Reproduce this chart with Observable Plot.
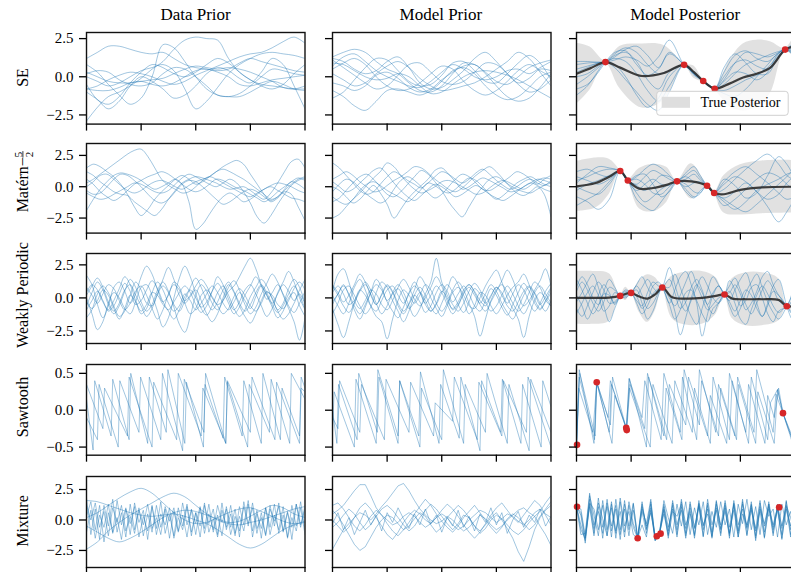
<!DOCTYPE html>
<html><head><meta charset="utf-8">
<script src="https://cdn.jsdelivr.net/npm/d3@7"></script>
<script src="https://cdn.jsdelivr.net/npm/@observablehq/plot@0.6"></script>
<style>
body{margin:0;background:#fff}
#fig{position:relative;width:791px;height:572px;overflow:hidden;background:#fff;font-family:"Liberation Serif",serif}
#fig svg{position:absolute}
</style></head><body><div id="fig"></div>
<script>
// ---------- labels ----------
const colTitles = ["Data Prior", "Model Prior", "Model Posterior"];
const rowNames = ["SE", "Matérn", "Weakly Periodic", "Sawtooth", "Mixture"];
const legendLabel = "True Posterior";
const rowTicks = [[-2.5,0,2.5],[-2.5,0,2.5],[-2.5,0,2.5],[-0.5,0,0.5],[-2.5,0,2.5]];
const rowDomains = [[-3.1,2.9],[-3.7,3.45],[-3.45,3.36],[-0.61,0.62],[-3.9,3.57]];
const xTicks = [0,1,2,3,4];

// ---------- SE ----------
const seData = [
 [1.2,1.6,2.0,2.0,1.8,1.6,1.5,1.6,1.2,0.8,0.6,0.5,0.4,0.5,0.9,1.2,1.0,0.8,0.6,0.4,0.3],
 [-2.9,-2.0,-1.3,-1.0,-0.6,-0.1,0.5,1.0,1.8,2.4,2.6,2.5,2.4,1.2,0.3,-0.2,-0.5,-0.6,-0.7,-0.8,-0.8],
 [0.8,0.3,-0.5,-1.2,-1.8,-1.4,0.0,2.1,1.9,1.0,0.0,-0.8,-1.2,-1.3,-1.1,-0.6,0.0,0.5,0.4,0.2,0.1],
 [0.0,-0.3,-0.6,-0.4,0.0,0.4,0.6,0.8,0.4,-0.8,-2.1,-1.6,-0.7,0.2,0.8,1.2,1.5,1.6,1.5,1.4,1.2],
 [-0.8,-0.6,-0.2,0.1,0.3,0.2,0.0,-0.3,-0.5,-0.3,0.1,0.4,0.7,1.0,1.3,1.5,1.6,1.9,2.3,2.6,2.2],
 [-0.8,-0.9,-0.9,-0.7,-0.4,-0.3,-0.5,-0.6,-0.4,0.0,0.4,0.5,0.3,0.0,-0.5,-0.6,-0.4,-0.2,-0.1,0.0,0.1],
 [0.2,0.4,0.3,-0.2,-0.5,-0.6,-0.4,0.2,0.6,0.5,0.0,-0.6,-1.2,-1.3,-1.3,-1.0,-0.6,-0.3,-0.5,-0.8,-0.9],
 [-0.5,-1.5,-1.8,-1.3,-0.4,0.3,0.8,0.6,0.2,0.0,0.3,0.8,1.2,0.9,0.3,-0.2,-0.6,-0.8,-0.5,0.2,0.8],
 [0.3,0.0,-0.3,-0.4,-0.4,-0.3,-0.2,-0.1,0.2,0.5,0.7,0.6,0.5,0.6,0.5,0.3,0.0,-0.3,-0.7,-0.8,-0.6],
 [-1.0,-1.5,-2.1,-1.6,-0.6,0.0,-0.3,-0.8,-1.4,-1.2,-0.6,0.2,0.6,0.4,-0.1,-0.4,0.3,1.2,0.8,-0.6,-2.1]
];
const seModel = [
 [1.3,1.6,1.8,1.6,1.0,0.5,0.2,-0.4,-0.9,-1.0,-0.6,0.2,0.9,0.8,0.3,-0.3,-0.5,0.0,0.6,0.9,1.1],
 [1.2,1.0,0.5,0.2,0.4,1.0,1.3,0.6,-0.4,-0.8,-0.7,-0.2,0.4,1.2,1.6,1.0,0.2,-0.4,-0.1,0.5,0.4],
 [-0.9,-1.3,-1.9,-2.2,-1.6,-0.9,-0.8,-1.0,-1.2,-0.9,-0.3,0.4,0.6,0.2,-0.6,-1.2,-1.5,-1.3,-0.7,0.0,0.3],
 [-1.4,-1.0,-0.2,0.6,1.2,1.1,0.4,-0.3,-0.6,-0.5,0.1,0.9,1.0,0.4,-0.3,-0.4,0.2,0.9,1.4,0.9,-0.2],
 [0.9,0.8,0.4,0.0,-0.2,-0.1,0.2,0.0,-0.6,-1.1,-1.0,-0.5,0.0,0.3,0.4,0.3,0.1,-0.2,-0.6,-1.0,-1.4],
 [0.5,0.9,1.2,0.8,0.0,-0.6,-0.9,-0.8,-0.4,0.2,0.7,0.5,-0.3,-0.9,-1.2,-0.9,-0.3,0.4,0.8,0.4,0.0],
 [0.2,-0.2,-0.6,-0.4,0.2,0.7,1.0,0.6,-0.1,-0.6,-0.9,-0.8,-0.6,-0.4,0.0,0.5,1.0,1.6,1.2,0.3,-0.6],
 [1.1,0.6,0.1,-0.4,-0.8,-0.6,0.1,0.8,0.9,0.3,-0.3,-0.5,-0.3,0.3,0.9,0.8,0.2,-0.5,-1.0,-0.8,-0.2],
 [-0.4,-0.6,-0.9,-0.6,0.1,0.3,-0.1,-0.7,-1.0,-0.8,-0.2,0.3,0.7,0.8,0.2,-0.6,-1.3,-1.6,-1.4,-0.7,0.2],
 [0.7,1.3,1.5,1.0,0.4,0.0,-0.3,-0.6,-0.7,-0.3,0.3,0.8,0.5,0.0,-0.2,0.0,0.4,0.5,0.2,0.6,1.0]
];
const seObsX = [0.53,1.97,2.32,2.53,3.82];
const seObsY = [0.96,0.78,-0.28,-0.78,1.78];
const seKnotX = [0,0.25,0.53,0.8,1.2,1.6,1.97,2.15,2.32,2.53,2.8,3.05,3.3,3.55,3.82,4.0];
const seMean  = [0.2,0.55,0.96,0.6,0.05,0.25,0.78,0.3,-0.28,-0.78,-0.45,-0.05,0.2,0.6,1.78,2.0];
const seSd    = [1.0,0.7,0.04,0.7,1.05,0.9,0.04,0.2,0.04,0.04,0.75,1.1,1.1,0.85,0.04,0.4];
const sePostX = [0,0.2,0.4,0.53,0.7,0.9,1.1,1.3,1.5,1.7,1.97,2.15,2.32,2.53,2.7,2.9,3.1,3.3,3.5,3.65,3.82,4.0];
const sePost = [
 [0.3,0.6,0.9,0.96,1.5,1.9,1.6,0.8,0.2,0.4,0.78,0.2,-0.28,-0.78,0.3,1.4,1.7,1.2,1.0,1.4,1.78,1.4],
 [-0.5,0.0,0.6,0.96,1.2,1.0,0.2,-0.9,-1.6,-0.6,0.78,0.1,-0.28,-0.8,-0.2,0.9,1.6,1.5,1.3,1.5,1.78,1.6],
 [0.8,0.9,0.95,0.96,1.4,1.6,1.0,-0.2,-0.8,0.3,0.78,0.3,-0.3,-0.78,-0.5,0.2,0.8,1.1,1.4,1.6,1.78,1.9],
 [-1.2,-0.6,0.4,0.96,0.8,0.0,-1.2,-2.0,-1.4,0.0,0.78,0.2,-0.28,-0.78,-0.9,-0.6,-0.2,0.1,0.6,1.2,1.78,2.1],
 [0.5,0.7,0.9,0.96,1.3,1.8,2.0,1.4,0.6,1.6,0.78,0.25,-0.28,-0.78,0.0,0.9,1.1,0.7,0.5,1.1,1.78,1.7],
 [0.0,0.2,0.7,0.96,0.6,-0.2,-1.0,-1.8,-2.2,-1.0,0.78,0.2,-0.28,-0.78,-1.1,-1.3,-0.8,0.0,0.8,1.4,1.78,1.3],
 [1.0,1.0,0.95,0.96,1.1,1.3,1.1,0.7,1.3,2.4,0.78,0.3,-0.28,-0.78,0.6,1.5,0.9,0.2,0.2,1.0,1.78,2.2],
 [-0.8,-0.5,0.3,0.96,1.6,1.7,0.8,0.1,0.5,1.5,0.78,0.2,-0.28,-0.78,-0.3,0.3,0.2,-0.2,0.3,1.3,1.78,1.5]
];

// ---------- Matern 5/2 ----------
const matData = [
 [0.3,0.6,1.0,1.4,1.8,2.2,2.6,2.9,3.0,2.4,1.5,0.6,0.1,-0.2,-0.5,-0.4,0.0,0.5,0.8,0.6,0.3,0.0,-0.3,-0.6,-0.8,-0.5,-0.2,0.1,0.3,0.2,0.0,-0.3,-0.5],
 [1.5,1.8,1.6,1.2,0.8,0.2,-0.6,-1.6,-2.3,-1.8,-1.0,-0.4,0.1,0.6,0.9,0.6,0.2,0.4,0.8,1.2,1.4,1.2,0.9,0.6,0.2,-0.2,-0.6,-1.0,-0.8,-0.3,0.2,0.6,0.8],
 [-1.9,-1.0,-0.2,0.4,0.9,1.1,1.0,0.8,0.5,0.1,-0.2,0.0,0.3,0.6,0.2,-1.2,-3.4,-3.0,-2.2,-1.4,-0.8,-0.5,-0.8,-1.2,-1.0,-0.6,-0.2,0.0,-0.3,-0.6,-0.9,-1.0,-1.2],
 [0.0,0.4,0.9,1.0,0.6,0.1,-0.3,-0.5,-0.3,0.1,0.4,0.5,0.3,0.0,-0.2,0.1,0.4,0.6,0.8,1.2,1.6,1.9,2.1,1.8,1.0,0.2,-0.6,-1.2,-0.9,-0.4,-0.6,-1.6,-2.7],
 [1.2,0.9,0.4,0.0,-0.4,-0.6,-0.7,-1.2,-1.6,-2.0,-2.3,-1.8,-1.0,-0.3,0.3,0.6,0.8,0.7,0.5,0.3,0.0,-0.2,-0.1,0.0,-0.3,-0.7,-1.0,-0.5,0.3,1.2,2.0,2.2,1.5],
 [-0.5,-0.8,-1.0,-0.9,-0.6,-0.3,0.0,0.3,0.2,-0.1,-0.4,-0.5,-0.3,0.2,0.7,1.0,0.8,0.5,0.2,0.0,0.3,0.6,0.3,-0.4,-1.3,-2.4,-2.9,-2.3,-1.4,-0.6,0.1,0.5,0.7],
 [0.6,0.2,-0.4,-0.8,-1.1,-0.8,-0.3,0.2,0.5,0.8,1.0,1.2,1.0,0.6,0.2,-0.2,-0.4,-0.2,0.2,0.6,0.5,0.2,-0.1,-0.3,-0.6,-0.9,-1.2,-0.9,-0.4,0.0,0.4,0.7,0.5],
 [-0.3,-0.6,-0.5,0.0,0.6,1.0,0.9,0.5,0.0,-0.6,-1.1,-1.3,-1.0,-0.4,0.2,0.5,0.4,0.0,-0.5,-1.0,-1.4,-1.2,-0.8,-0.4,-0.2,-0.4,-0.8,-1.1,-0.8,-0.2,0.4,0.2,-0.2]
];
const matModel = [
 [1.9,1.5,0.9,0.3,-0.3,-0.6,-0.4,0.2,0.8,1.2,0.9,0.5,0.2,-0.1,0.3,0.8,1.2,1.0,0.6,0.3,0.6,1.1,1.4,1.0,0.5,0.1,-0.2,0.0,0.4,0.6,0.3,0.1,0.5],
 [-2.5,-2.2,-1.6,-1.0,-0.5,0.1,0.7,1.2,1.9,1.6,0.9,0.3,-0.2,-0.5,-0.3,0.0,0.4,0.5,0.3,0.0,-0.3,-0.6,-0.5,-0.1,0.3,0.5,0.3,0.0,-0.2,0.1,0.5,0.7,0.6],
 [0.0,-0.3,-0.8,-1.3,-1.0,-0.4,0.1,-0.5,-1.4,-2.5,-1.8,-1.0,-0.4,0.1,0.6,1.3,1.5,1.0,0.4,-0.2,0.0,0.4,0.7,0.5,0.2,-0.1,-0.4,-0.3,0.0,0.3,0.6,0.5,0.3],
 [-1.2,-0.9,-0.3,0.3,0.8,1.0,0.6,0.0,-0.6,-0.8,-0.4,0.2,0.8,1.3,1.0,0.4,-0.3,-1.2,-1.9,-2.4,-1.6,-0.7,0.0,0.6,0.8,0.5,0.1,-0.2,-0.4,-0.5,-0.2,0.1,0.3],
 [0.6,0.9,1.2,0.9,0.4,0.0,-0.4,-0.3,0.1,0.5,0.8,1.2,1.6,1.5,1.1,0.6,0.2,-0.2,-0.4,-0.1,0.4,0.9,1.3,1.6,1.2,0.6,0.0,-0.5,-0.7,-0.4,0.0,-0.6,-2.4],
 [-0.8,-1.2,-1.4,-1.0,-0.3,0.2,0.4,0.1,-0.3,-0.6,-0.9,-1.2,-0.8,-0.2,0.3,0.1,-0.3,-0.5,-0.2,0.3,0.7,0.5,0.0,-0.6,-1.0,-0.7,-0.2,0.3,0.6,0.8,0.5,0.2,0.0],
 [0.4,0.0,-0.4,-0.2,0.3,0.8,1.3,1.5,1.0,0.3,-0.3,-0.8,-1.1,-0.7,-0.2,0.2,0.0,-0.4,-0.8,-0.6,-0.2,0.1,-0.2,-0.6,-0.9,-1.1,-0.8,-0.4,0.0,0.3,0.1,-0.2,-0.4],
 [-0.4,0.2,0.6,0.4,-0.1,-0.6,-1.0,-1.3,-1.0,-0.2,0.5,0.8,0.5,0.0,-0.5,-0.9,-0.6,0.0,0.6,1.0,0.8,0.3,-0.2,-0.3,0.0,0.4,0.8,1.2,1.0,0.6,0.2,0.6,0.9]
];
const matObsX = [0.80,0.94,1.84,2.39,2.52];
const matObsY = [1.25,0.5,0.43,0.08,-0.5];
const matKnotX = [0,0.35,0.6,0.8,0.94,1.15,1.4,1.65,1.84,2.1,2.39,2.52,2.7,3.0,3.4,4.0];
const matMean  = [0.03,0.3,0.8,1.25,0.5,-0.15,-0.1,0.15,0.43,0.43,0.08,-0.5,-0.6,-0.25,-0.05,0.0];
const matSd    = [1.0,1.0,0.7,0.03,0.03,0.8,0.95,0.7,0.03,0.7,0.03,0.03,0.75,1.0,1.05,1.05];
const matPostX = [0,0.2,0.4,0.6,0.8,0.94,1.1,1.25,1.4,1.55,1.7,1.84,2.0,2.15,2.25,2.39,2.52,2.7,2.9,3.1,3.3,3.5,3.7,3.85,4.0];
const matPost = [
 [0.5,0.8,1.2,1.4,1.25,0.5,0.2,0.8,1.3,1.0,0.6,0.43,0.9,1.3,0.8,0.08,-0.5,-0.2,0.6,1.4,2.1,2.6,1.8,0.9,0.5],
 [-0.8,-1.2,-1.8,-1.0,1.25,0.5,-0.5,-1.2,-0.8,-0.2,0.2,0.43,-0.2,-0.8,-0.6,0.08,-0.5,-1.2,-1.8,-1.2,-0.3,0.2,0.6,1.0,1.2],
 [1.2,1.4,1.0,0.8,1.25,0.5,0.8,1.4,1.8,1.5,0.9,0.43,0.6,1.0,0.6,0.08,-0.5,0.4,1.2,1.6,1.0,0.3,-0.5,-1.0,-0.8],
 [0.0,-0.4,-0.6,0.2,1.25,0.5,-1.0,-1.6,-1.9,-1.2,-0.3,0.43,0.2,-0.4,-0.5,0.08,-0.5,-0.9,-0.4,0.3,-0.4,-1.6,-2.8,-2.0,-0.9],
 [0.8,0.5,0.2,0.6,1.25,0.5,0.1,-0.3,0.3,0.9,0.8,0.43,1.1,1.6,1.0,0.08,-0.5,-1.5,-1.0,-0.2,0.6,1.1,0.8,0.2,-0.3],
 [-1.5,-1.0,-0.5,0.4,1.25,0.5,0.6,0.2,-0.5,-0.6,0.0,0.43,0.0,0.3,0.4,0.08,-0.5,0.2,0.8,0.4,-0.4,-1.0,-0.6,0.3,0.9],
 [0.3,1.0,1.6,1.5,1.25,0.5,-0.3,0.2,0.6,0.2,0.1,0.43,-0.4,-0.9,-0.4,0.08,-0.5,-1.0,-1.6,-2.0,-1.4,-0.6,0.2,0.8,1.5],
 [-0.3,0.2,0.5,0.9,1.25,0.5,0.9,1.0,0.2,-0.8,-0.4,0.43,0.8,0.4,0.3,0.08,-0.5,0.6,0.1,-0.9,-0.5,0.9,2.4,1.8,0.6]
];

// ---------- Weakly periodic ----------
const wpData = [
 [1.7,1.0,-0.5,-1.5,-0.6,0.8,1.2,0.5,-0.4,0.3,1.6,2.4,1.8,0.6,-0.3,0.2,1.2,0.8,-0.4,-1.2,-0.8,0.2,0.6,0.1,-0.5,-0.2,0.5,0.9,1.6,2.4,3.0,2.2,1.0,0.2,-0.4,0.3,1.0,0.5,-0.2,0.6,1.4],
 [0.0,-1.2,-2.4,-1.8,-0.4,0.4,0.0,-0.8,-1.2,-0.3,0.8,1.0,0.2,-1.0,-2.2,-1.5,0.0,1.5,2.4,1.6,0.3,-0.8,-1.3,-0.6,0.4,0.9,0.2,-0.8,-1.4,-0.9,0.1,0.8,1.4,0.9,-0.1,-1.0,-1.6,-1.2,-0.4,0.3,-0.5],
 [-0.6,0.4,1.2,0.6,-0.5,-1.2,-0.6,0.5,1.4,0.8,-0.3,-1.0,-0.5,0.6,1.2,0.5,-0.7,-2.0,-2.6,-1.4,0.2,1.0,0.5,-0.4,-0.9,-0.2,0.8,1.3,0.6,-0.5,-1.2,-0.7,0.3,1.1,1.8,1.2,0.2,-0.8,-1.8,-3.2,-1.5],
 [0.8,0.2,-0.4,0.3,1.0,0.7,-0.2,-0.9,-0.4,0.5,0.9,0.2,-0.8,-1.6,-0.9,0.3,1.0,0.6,-0.2,0.2,0.9,1.4,0.9,0.0,-0.6,-1.2,-0.8,0.1,0.7,0.2,-0.6,-1.0,-0.4,0.4,0.2,-0.5,-0.8,-0.2,0.7,1.2,0.6],
 [-1.5,-0.9,0.3,0.9,0.4,-0.6,-1.4,-1.0,0.2,1.2,0.6,-0.4,-0.6,0.3,1.4,2.3,1.4,0.2,-0.4,0.1,0.6,-0.2,-1.2,-1.8,-1.2,0.0,1.0,0.4,-0.6,-1.4,-1.9,-1.2,-0.2,0.5,0.0,-0.9,-0.4,0.7,1.4,0.8,-0.4],
 [0.4,1.0,0.6,-0.3,-0.9,-0.2,0.7,1.6,1.0,-0.2,-1.0,-0.5,0.4,0.2,-0.5,-0.9,-0.3,0.4,0.9,0.4,-0.5,-1.1,-0.6,0.5,1.6,1.0,-0.1,-0.9,-0.3,0.6,1.0,0.3,-0.6,-1.4,-0.8,0.4,1.2,2.0,1.2,0.0,-0.9],
 [-0.3,-0.8,-0.2,0.6,0.2,-0.8,-1.6,-0.8,0.2,-0.3,-1.2,-0.8,0.4,1.2,0.6,-0.4,-1.0,-0.6,0.3,-0.2,-0.9,-0.4,0.3,0.9,0.4,-0.4,-0.9,-0.3,0.4,-0.2,-0.8,0.1,0.9,0.2,-0.7,-1.5,-1.0,0.0,0.4,-0.6,-1.4],
 [0.2,0.9,1.5,0.8,-0.3,-1.0,-0.4,0.6,1.0,0.2,-0.6,-1.4,-0.8,0.3,0.9,0.4,-0.5,-1.0,-0.2,0.8,1.5,0.8,-0.2,-0.9,-0.3,0.6,1.2,0.5,-0.4,-1.0,-0.5,0.4,1.0,0.4,-0.5,-1.1,-0.6,0.3,0.9,0.2,-0.8],
 [-0.9,-0.2,0.5,-0.2,-1.0,-0.6,0.3,1.1,0.5,-0.5,-0.2,0.6,1.3,0.7,-0.3,-1.0,-1.6,-0.9,0.1,0.6,0.0,-0.7,-0.3,0.5,1.1,0.5,-0.4,-1.2,-0.7,0.2,0.9,1.6,0.9,-0.1,0.4,1.0,0.3,-0.6,-1.1,-0.4,0.5]
];
const wpModel = [
 [0.5,1.8,2.2,1.2,-0.2,-0.8,-0.2,0.6,0.3,-0.5,-0.9,-0.2,0.8,1.4,0.8,-0.1,-0.6,0.0,0.8,1.6,0.9,-0.2,-0.8,-0.3,0.6,1.0,0.4,-0.5,-1.0,-0.3,0.5,1.3,2.1,1.4,0.2,-0.6,-0.2,0.6,1.3,2.2,0.9],
 [-0.8,-2.0,-3.0,-1.8,-0.4,0.6,1.2,0.6,-0.4,-1.2,-0.6,0.4,1.0,0.4,-0.6,-1.4,-0.8,0.3,1.2,3.0,1.2,0.2,-0.5,-1.0,-0.4,0.5,1.1,0.6,-0.3,-1.0,-0.6,0.2,0.9,0.3,-0.6,-1.2,-0.5,0.4,0.9,0.3,-0.4],
 [0.2,-0.6,-1.2,-0.4,0.8,1.4,0.6,-0.6,-1.4,-1.8,-3.1,-1.6,-0.2,0.6,0.2,-0.4,0.2,1.0,0.6,-0.4,-1.0,-0.4,0.6,1.2,0.6,-0.4,-1.4,-2.9,-1.6,-0.2,0.6,1.0,0.4,-0.4,-1.0,-0.5,0.4,1.2,0.8,-0.2,-0.6],
 [1.0,0.4,-0.3,0.2,1.0,1.8,1.2,0.2,-0.5,0.3,1.0,0.5,-0.4,-1.0,-0.4,0.6,1.6,1.0,0.0,-0.8,-1.4,-0.6,0.4,0.8,0.2,-0.6,-0.8,0.0,0.9,1.6,2.1,1.2,0.0,-0.8,-1.6,-3.0,-1.4,-0.2,0.4,0.0,-0.6],
 [-1.2,-0.4,0.6,0.9,0.2,-0.6,-1.2,-0.7,0.4,1.2,0.8,-0.2,-1.0,-1.8,-1.0,0.2,0.8,0.2,-0.7,-1.2,-0.4,0.6,1.6,1.0,-0.2,-1.2,-0.6,0.4,0.2,-0.6,-1.2,-0.6,0.2,0.8,1.2,1.8,1.0,-0.1,-0.8,-0.2,0.7],
 [0.4,0.9,0.3,-0.5,-0.2,0.6,0.2,-0.6,-1.0,-0.2,0.6,0.9,0.2,-0.4,0.4,1.2,0.5,-0.5,-1.0,-0.5,0.4,1.0,0.4,-0.5,-1.1,-0.3,0.7,0.3,-0.4,0.2,0.8,0.2,-0.6,-1.0,-0.3,0.5,0.9,0.4,-0.4,-1.0,-0.2],
 [-0.3,0.3,1.0,0.2,-0.9,-1.6,-0.7,0.4,1.4,0.8,-0.2,0.3,0.7,0.0,-0.8,-0.3,0.4,-0.2,-1.0,-0.4,0.5,0.0,-0.9,-0.5,0.4,1.0,0.5,-0.2,-0.6,0.1,0.8,0.4,-0.4,0.3,1.0,0.6,-0.3,-1.0,-0.4,0.5,1.1],
 [-0.5,0.3,0.9,0.3,-0.6,-1.2,-0.5,0.4,1.0,0.6,-0.3,-1.0,-1.5,-0.7,0.3,0.9,0.4,-0.4,0.2,0.9,0.4,-0.5,-1.2,-0.6,0.3,0.8,0.2,-0.4,0.3,1.0,0.5,-0.4,-1.1,-1.6,-0.8,0.2,0.8,0.3,-0.5,0.1,0.8],
 [0.9,0.2,-0.6,-1.1,-0.4,0.5,1.0,0.3,-0.5,0.2,0.9,0.4,-0.6,-1.2,-0.5,0.2,-0.3,-1.1,-0.6,0.4,1.0,0.5,-0.3,0.3,0.9,0.3,-0.6,-1.0,-0.2,0.7,0.2,-0.7,-1.3,-0.5,0.4,1.1,0.5,-0.4,-0.9,-0.3,0.4]
];
const wpObsX = [0.80,1.0,1.57,2.71,3.85];
const wpObsY = [0.15,0.38,0.79,0.26,-0.63];
const wpKnotX = [0,0.3,0.6,0.8,0.9,1.0,1.15,1.3,1.45,1.57,1.75,2.0,2.3,2.55,2.71,2.85,3.1,3.4,3.7,3.85,4.0];
const wpMean  = [0.0,0.0,0.02,0.15,0.3,0.38,0.1,-0.05,0.3,0.79,0.05,-0.05,0.0,0.15,0.26,-0.05,-0.1,-0.1,-0.15,-0.63,-0.6];
const wpSd    = [1.0,1.0,0.9,0.03,0.25,0.03,0.6,0.9,0.6,0.03,0.8,1.0,1.0,0.7,0.03,0.75,1.0,1.0,0.8,0.03,0.4];
const wpPostX = [0,0.1,0.2,0.3,0.4,0.5,0.6,0.7,0.8,0.9,1.0,1.1,1.2,1.3,1.4,1.5,1.57,1.7,1.8,1.9,2.0,2.1,2.2,2.3,2.4,2.5,2.6,2.71,2.8,2.9,3.0,3.1,3.2,3.3,3.4,3.5,3.6,3.7,3.85,3.95,4.0];
const wpPost = [
 [0.5,1.2,0.6,-0.4,-1.0,-0.3,0.8,0.6,0.15,0.4,0.38,1.0,1.6,0.8,0.2,0.6,0.79,2.3,1.0,-0.3,-1.0,-0.2,0.8,1.6,0.9,0.0,-0.4,0.26,0.9,1.5,0.6,-0.5,-1.2,-0.4,0.6,1.3,0.7,-0.2,-0.63,-0.2,0.3],
 [-0.8,-1.4,-0.6,0.4,1.2,0.6,-0.4,-0.3,0.15,0.2,0.38,-0.4,-1.2,-0.6,0.3,0.7,0.79,0.2,-1.0,-2.8,-1.5,0.0,1.0,0.4,-0.6,-1.2,-0.4,0.26,-0.6,-1.4,-0.8,0.4,1.2,1.8,0.8,-0.3,-1.1,-1.6,-0.63,0.2,0.6],
 [1.4,0.6,-0.4,-1.2,-0.6,0.5,1.4,0.8,0.15,0.1,0.38,0.9,0.2,-0.8,-0.4,0.4,0.79,-0.4,0.6,1.6,2.0,1.0,-0.4,-2.9,-1.2,0.2,0.9,0.26,-0.2,0.6,1.4,1.9,0.8,-0.4,-1.4,-0.6,0.5,0.2,-0.63,-1.2,-0.8],
 [-0.3,0.4,1.2,1.8,0.8,-0.6,-1.8,-0.8,0.15,0.6,0.38,-0.2,-0.6,0.4,1.2,0.9,0.79,1.4,0.4,-0.8,-0.3,0.8,1.4,0.6,-0.5,0.4,0.9,0.26,0.5,-0.4,-1.6,-2.0,-0.9,0.2,0.9,0.3,-0.6,-1.1,-0.63,-0.6,-1.0],
 [0.2,-0.6,-1.6,-0.8,0.2,1.0,0.4,-0.5,0.15,0.5,0.38,0.2,0.8,1.4,0.8,0.4,0.79,0.8,1.8,0.8,-0.4,-1.4,-2.0,-0.8,0.6,1.6,1.0,0.26,-0.3,-1.0,-0.2,0.6,0.2,-0.8,-1.4,-0.4,0.9,1.4,-0.63,-1.6,-1.2],
 [-1.2,-0.4,0.4,0.9,0.2,-1.0,-0.6,0.4,0.15,0.0,0.38,0.6,-0.4,-1.6,-1.0,0.2,0.79,0.0,-0.6,0.2,1.2,2.0,1.0,0.0,-0.9,-0.5,0.0,0.26,1.3,0.6,-0.6,-0.2,0.8,1.0,0.0,-1.2,-1.8,-1.0,-0.63,0.4,1.2],
 [0.8,1.6,1.0,0.0,-0.5,0.3,0.2,-0.4,0.15,0.3,0.38,0.1,-0.8,-0.2,0.9,1.2,0.79,-0.5,-1.6,-0.9,0.4,0.6,-0.2,-1.2,-1.8,-0.8,-0.4,0.26,0.4,1.0,0.3,-0.9,-0.4,0.5,1.6,2.0,1.0,0.2,-0.63,-1.2,-2.2]
];

// ---------- Sawtooth ([x, y] vertices) ----------
const sawData = [
 [[0,0.15],[0.12,-0.54],[0.15,0.4],[0.45,-0.35],[0.48,0.42],[0.78,-0.4],[0.81,0.5],[1.12,-0.45],[1.15,0.45],[1.46,-0.3],[1.49,0.55],[1.8,-0.45],[1.83,0.38],[2.14,-0.5],[2.17,0.35],[2.5,-0.38],[2.53,0.45],[2.85,-0.35],[2.88,0.4],[3.2,-0.45],[3.23,0.5],[3.55,-0.4],[3.58,0.3],[3.9,-0.35],[3.93,0.45],[4,0.3]],
 [[0,-0.1],[0.2,-0.4],[0.23,0.35],[0.58,-0.5],[0.61,0.4],[0.96,-0.3],[0.99,0.45],[1.36,-0.4],[1.39,0.5],[1.76,-0.55],[1.79,0.42],[2.15,-0.3],[2.18,0.5],[2.55,-0.45],[2.58,0.38],[2.95,-0.5],[2.98,0.35],[3.35,-0.3],[3.38,0.42],[3.72,-0.45],[3.75,0.5],[4,0.15]],
 [[0,0.35],[0.3,-0.25],[0.33,0.3],[0.75,-0.35],[0.78,0.45],[1.2,-0.5],[1.23,0.38],[1.65,-0.4],[1.68,0.5],[2.1,-0.35],[2.13,0.3],[2.55,-0.45],[2.58,0.4],[3.0,-0.3],[3.03,0.45],[3.45,-0.4],[3.48,0.38],[3.9,-0.45],[3.93,0.3],[4,0.25]]
];
const sawModel = [
 [[0,0.0],[0.08,-0.45],[0.11,0.35],[0.45,-0.4],[0.48,0.5],[0.82,-0.3],[0.85,0.45],[1.2,-0.45],[1.23,0.4],[1.58,-0.35],[1.61,0.52],[1.95,-0.45],[1.98,0.35],[2.32,-0.38],[2.35,0.45],[2.7,-0.55],[2.73,0.4],[3.08,-0.3],[3.11,0.42],[3.45,-0.45],[3.48,0.35],[3.82,-0.5],[3.85,0.4],[4,0.05]],
 [[0,-0.3],[0.03,0.25],[0.4,-0.5],[0.43,0.42],[0.8,-0.45],[0.83,0.55],[1.2,-0.35],[1.23,0.4],[1.6,-0.5],[1.63,0.3],[2.0,-0.4],[2.03,0.55],[2.4,-0.45],[2.43,0.35],[2.8,-0.3],[2.83,0.5],[3.2,-0.45],[3.23,0.35],[3.6,-0.55],[3.63,0.42],[4,-0.3]],
 [[0,-0.1],[0.1,-0.25],[0.13,0.4],[0.5,-0.3],[0.53,0.35],[0.95,-0.4],[0.98,0.42],[1.4,-0.3],[1.43,0.38],[1.85,-0.35],[1.88,0.1],[2.2,-0.15],[2.23,0.45],[2.65,-0.4],[2.68,0.38],[3.1,-0.35],[3.13,0.4],[3.55,-0.3],[3.58,0.45],[4,-0.5]]
];
const sawObsX = [0.01,0.37,0.91,0.92,3.78];
const sawObsY = [-0.47,0.38,-0.24,-0.27,-0.04];
const sawPost = [
 [[0,-0.47],[0.05,0.55],[0.32,-0.45],[0.37,0.38],[0.6,-0.3],[0.64,0.35],[0.91,-0.24],[0.97,0.43],[1.28,-0.5],[1.32,0.45],[1.6,-0.35],[1.64,0.3],[1.93,-0.4],[1.97,0.55],[2.25,-0.2],[2.29,0.4],[2.6,-0.35],[2.64,0.3],[2.93,-0.4],[2.97,0.35],[3.28,-0.45],[3.32,0.25],[3.62,-0.45],[3.68,0.28],[3.78,-0.04],[4,-0.5]],
 [[0,-0.47],[0.04,0.3],[0.3,-0.3],[0.37,0.38],[0.62,-0.2],[0.66,0.45],[0.92,-0.27],[0.96,0.43],[1.2,-0.1],[1.25,0.4],[1.55,-0.4],[1.6,0.5],[1.9,-0.3],[1.94,0.45],[2.2,-0.4],[2.25,0.55],[2.55,-0.3],[2.6,0.35],[2.9,-0.35],[2.95,0.45],[3.25,-0.3],[3.3,0.55],[3.6,-0.3],[3.65,0.22],[3.78,-0.04],[4,-0.55]],
 [[0,-0.47],[0.05,0.45],[0.33,-0.4],[0.37,0.38],[0.58,-0.1],[0.62,0.4],[0.91,-0.24],[0.97,0.3],[1.35,-0.5],[1.4,0.35],[1.75,-0.45],[1.8,0.4],[2.12,-0.3],[2.16,0.3],[2.45,-0.45],[2.5,0.45],[2.8,-0.4],[2.85,0.4],[3.15,-0.45],[3.2,0.45],[3.5,-0.4],[3.55,0.1],[3.68,0.28],[3.78,-0.04],[4,-0.5]],
 [[0,-0.47],[0.06,0.5],[0.34,-0.35],[0.37,0.38],[0.65,-0.45],[0.7,0.2],[0.92,-0.27],[0.98,0.35],[1.25,-0.25],[1.3,0.5],[1.65,-0.4],[1.7,0.35],[2.0,-0.2],[2.05,0.45],[2.4,-0.35],[2.45,0.2],[2.75,-0.45],[2.8,0.5],[3.1,-0.3],[3.15,0.35],[3.45,-0.45],[3.5,0.2],[3.62,-0.1],[3.7,0.3],[3.78,-0.04],[4,-0.45]]
];

// ---------- Mixture ----------
const mixDataSmooth = [
 [0.2,0.6,1.2,1.8,2.3,2.6,2.2,1.4,0.6,0.0,-0.3,-0.2,0.2,0.6,0.9,1.0,0.7,0.3,-0.1,-0.3,-0.2],
 [-2.4,-1.8,-0.9,-0.2,0.4,0.9,1.4,1.9,2.2,1.9,1.2,0.5,0.0,-0.3,-0.4,-0.2,0.0,0.3,0.6,0.9,1.1],
 [1.6,1.5,1.2,0.9,0.6,0.4,0.3,0.4,0.5,0.3,0.0,-0.3,-0.8,-1.4,-2.0,-2.3,-2.0,-1.4,-0.8,-0.4,-0.1],
 [-0.5,-1.0,-1.5,-1.8,-1.5,-1.0,-0.4,0.2,0.6,0.8,0.7,0.4,0.1,-0.2,-0.1,0.3,0.8,1.2,1.0,0.5,0.2]
];
const mixDataJagged = [
 [1.8,-1.2,0.9,-1.6,1.2,-0.5,1.7,-1.0,0.6,-1.4,1.3,-0.8,1.0,-1.3,0.5,-1.0,1.2,-0.6,0.9,-1.5,0.7,-0.9,1.4,-0.4,0.8,-1.2,1.0,-0.7,1.3,-1.0,0.4,-1.3,1.1,-0.6,0.9,-1.4,1.5,-0.3,1.0,-1.1,0.6,-1.2,1.2,-0.5,1.4,-0.9,0.7,-1.6,1.3,-0.6,1.2],
 [0.3,1.5,-0.8,1.2,-1.8,0.6,-1.0,1.6,-0.4,1.0,-1.2,1.4,-0.2,0.8,-1.6,1.1,-0.7,1.5,-1.1,0.4,-1.3,1.0,-0.5,1.3,-1.0,0.6,-1.4,1.2,-0.3,0.9,-1.2,1.4,-0.8,0.5,-1.3,1.1,-0.4,1.6,-0.9,0.8,-1.5,1.0,-0.6,1.3,-1.1,0.4,-1.4,1.2,-0.5,1.5,-0.8],
 [-1.0,0.8,-1.5,0.4,-0.6,1.3,-1.1,0.2,-1.6,0.9,-0.3,1.1,-1.4,0.3,-0.9,1.2,-1.2,0.5,-0.4,1.0,-1.5,0.2,-0.8,1.1,-1.3,0.6,-0.5,1.4,-1.0,0.1,-1.4,0.8,-0.6,1.2,-1.1,0.3,-0.9,1.3,-1.4,0.5,-0.7,1.0,-1.2,0.4,-0.8,1.1,-1.5,0.2,-0.9,1.0,-1.2],
 [1.2,0.0,1.4,-0.6,0.7,-1.3,1.0,-0.2,1.2,-0.9,0.3,-1.1,0.8,-0.4,1.3,-0.7,0.2,-1.2,1.1,-0.1,1.0,-1.0,0.4,-1.4,0.9,-0.3,1.1,-1.1,0.5,-0.8,1.2,-0.2,0.9,-1.2,0.3,-0.9,1.1,-0.5,1.4,-0.7,0.2,-1.3,0.9,-0.1,1.1,-1.0,0.6,-0.6,1.3,-0.4,0.9]
];
const mixModel = [
 [0.5,0.8,1.2,1.8,2.4,2.9,2.9,2.0,1.0,0.4,0.0,-0.4,-0.2,0.3,0.6,0.3,-0.2,-0.6,-0.3,0.2,0.5,0.2,-0.4,-0.8,-0.5,0.0,0.4,0.8,0.6,0.2,-0.2,0.1,0.5,0.3,-0.1,-0.4,0.0,0.6,0.9,0.5,0.2],
 [-2.4,-1.6,-0.8,-0.3,0.2,0.6,0.4,0.0,0.5,1.1,1.6,2.2,2.8,3.0,2.4,1.6,0.9,0.4,0.0,-0.3,-0.1,0.3,0.0,-0.5,-0.9,-0.6,-0.1,0.4,0.1,-0.4,-0.8,-0.5,0.0,0.4,0.8,1.0,0.6,0.3,0.7,1.4,2.0],
 [0.8,0.3,-0.4,-1.2,-2.0,-2.5,-2.2,-1.4,-0.6,0.0,0.4,0.2,-0.3,-0.8,-0.5,0.1,0.6,0.3,-0.4,-1.0,-0.6,0.2,0.7,1.2,0.8,0.2,-0.5,-1.1,-0.7,0.0,0.4,0.1,-0.4,-0.9,-1.2,-0.8,-0.2,0.3,-0.5,-1.2,-2.1],
 [-0.6,-0.2,0.4,0.9,0.5,-0.2,-0.8,-0.4,0.3,0.9,1.2,0.8,0.2,-0.4,-0.9,-0.5,0.2,0.8,1.3,0.9,0.3,-0.3,-0.8,-0.3,0.4,0.2,-0.5,-0.9,-0.4,0.2,0.6,0.0,-0.7,-1.5,-2.6,-3.4,-2.2,-0.8,0.2,0.8,1.2],
 [1.2,1.4,0.9,0.2,-0.5,-0.9,-0.4,0.3,0.8,0.4,-0.3,-0.9,-1.3,-0.8,-0.2,0.5,1.1,1.7,1.2,0.5,-0.1,-0.6,-1.0,-0.5,0.2,0.7,1.2,0.6,0.0,-0.6,-1.1,-0.6,0.1,0.5,0.2,-0.3,-0.8,-0.4,0.3,0.9,1.5],
 [-0.3,0.6,-0.8,0.2,-1.2,-0.2,0.8,-0.4,0.4,-0.9,0.6,-0.2,1.0,0.1,-0.7,0.5,-0.4,0.9,-0.3,0.4,-1.0,0.2,-0.5,0.8,-0.6,0.3,-0.9,0.5,-0.2,1.0,-0.4,0.6,-1.1,0.0,0.7,-0.6,0.4,-0.2,0.9,-0.5,0.3],
 [0.0,-0.5,-1.0,-0.6,0.2,1.0,1.4,0.9,0.2,-0.5,-1.2,-1.6,-1.0,-0.2,0.4,0.8,0.5,0.0,-0.3,0.2,0.8,1.3,0.9,0.3,-0.4,-1.0,-1.5,-1.0,-0.3,0.4,1.0,1.4,0.8,0.2,-0.2,0.4,1.0,1.6,1.2,0.4,-0.4]
];
const mixObsX = [0.01,1.12,1.47,1.54,3.71];
const mixObsY = [1.09,-1.5,-1.34,-1.12,1.04];
const mixPost = [
 [1.1,-0.4,-1.7,2.0,0.4,-1.3,1.6,-0.8,1.3,-1.5,1.5,-1.0,1.2,-0.6,-1.5,1.1,-0.5,1.3,-1.5,-1.2,0.9,-0.9,1.4,-1.2,1.1,-1.1,1.5,-0.7,1.3,-1.4,1.2,-1.0,1.6,-0.8,1.0,-1.3,1.4,-1.1,1.3,-0.7,1.5,-1.3,1.1,-1.0,1.5,-0.6,1.0,-1.2,1.6,-0.8,1.2],
 [1.1,0.9,-1.3,1.7,-0.7,1.1,-1.5,1.4,-0.5,1.2,-1.2,1.6,-0.8,0.8,-1.5,0.7,-1.1,1.5,-1.6,-1.1,1.3,-0.6,0.9,-1.4,1.5,-0.7,1.0,-1.3,1.6,-0.5,0.9,-1.5,1.3,-0.4,1.4,-1.1,0.8,-1.4,1.5,-0.6,1.0,-1.5,1.4,-0.5,1.1,-1.3,1.3,-0.7,1.5,-1.2,0.7],
 [1.1,-0.8,-1.5,1.3,-1.1,1.8,-0.6,1.1,-1.4,1.7,-0.8,0.9,-1.3,1.3,-1.5,-0.4,-1.4,1.0,-1.7,-1.1,0.5,-1.2,1.6,-0.4,0.8,-1.5,1.3,-0.6,1.1,-1.3,1.7,-0.4,0.8,-1.3,1.6,-0.6,1.2,-0.9,1.7,-1.2,0.8,-0.7,1.6,-1.4,0.9,-0.4,1.04,-1.5,0.9,-0.5,1.4],
 [1.1,0.4,-1.9,1.4,0.9,-0.8,1.2,-1.3,1.5,-0.9,0.7,-1.4,1.5,-0.3,-1.4,1.3,-0.7,0.6,-1.3,-1.0,1.1,-1.3,1.2,-0.8,1.7,-0.4,0.7,-1.5,1.2,-0.8,1.4,-1.3,1.0,-1.1,1.2,-1.5,1.6,-0.4,0.9,-1.3,1.3,-0.9,0.7,-1.5,1.3,-1.1,1.04,-0.5,1.1,-1.4,0.9],
 [1.1,-1.2,-1.1,2.2,-0.4,0.7,-1.1,1.7,-0.9,0.9,-1.6,1.3,-0.5,1.4,-1.5,0.9,-0.3,1.7,-1.6,-1.0,1.6,0.2,-1.1,1.3,-0.5,1.5,-1.2,1.0,-0.4,1.5,-1.2,0.7,-0.6,1.5,-0.4,0.9,-1.4,1.3,-0.3,1.7,-0.8,1.1,-1.2,1.6,0.3,0.9,-1.4,1.3,-0.4,0.7,-1.0],
 [1.1,0.6,-1.5,1.1,-1.3,1.4,0.1,-1.3,1.0,-1.1,1.8,-0.5,0.7,-1.2,-1.5,1.5,-0.8,0.8,-1.7,-1.1,0.8,-1.5,0.7,0.3,1.3,-1.3,0.5,-1.2,1.4,-0.4,0.5,-1.4,1.5,-0.7,0.7,-1.1,1.3,-1.4,0.5,-0.4,1.2,-1.7,0.9,-0.3,1.3,-0.8,0.8,-1.6,1.2,0.2,-1.3]
];

// ---------- helpers ----------
const evenly = arrs => arrs.flatMap((ys, k) => ys.map((y, i) => ({k, x: 4 * i / (ys.length - 1), y})));
const onGrid = (xs, arrs) => arrs.flatMap((ys, k) => ys.map((y, i) => ({k, x: xs[i], y})).filter(d => d.x !== undefined));
const fromPairs = arrs => arrs.flatMap((pts, k) => pts.map(([x, y]) => ({k, x, y})));
const zipObs = (xs, ys) => xs.map((x, i) => ({x, y: ys[i]}));
const band = (xs, m, s) => xs.map((x, i) => ({x, m: m[i], lo: m[i] - 2 * s[i], hi: m[i] + 2 * s[i]}));

const BLUE = "#1f77b4";
const sampleLines = (data, curve, op = 0.42) => Plot.line(data, {x: "x", y: "y", z: "k", stroke: BLUE, strokeOpacity: op, strokeWidth: 1, curve, clip: true});
const bandArea = b => Plot.areaY(b, {x: "x", y1: "lo", y2: "hi", fill: "#dedede", fillOpacity: 0.9, curve: "catmull-rom", clip: true});
const meanLine = b => Plot.line(b, {x: "x", y: "m", stroke: "#2b2b2b", strokeOpacity: 0.9, strokeWidth: 2.2, curve: "catmull-rom", clip: true});
const obsDots = (xs, ys) => Plot.dot(zipObs(xs, ys), {x: "x", y: "y", r: 3.3, fill: "#d62728", stroke: "none"});

const seBand = band(seKnotX, seMean, seSd);
const matBand = band(matKnotX, matMean, matSd);
const wpBand = band(wpKnotX, wpMean, wpSd);

const panels = [
  [ [sampleLines(evenly(seData), "catmull-rom")],
    [sampleLines(evenly(seModel), "catmull-rom")],
    [bandArea(seBand), sampleLines(onGrid(sePostX, sePost), "catmull-rom"), meanLine(seBand), obsDots(seObsX, seObsY)] ],
  [ [sampleLines(evenly(matData), "catmull-rom")],
    [sampleLines(evenly(matModel), "catmull-rom")],
    [bandArea(matBand), sampleLines(onGrid(matPostX, matPost), "catmull-rom"), meanLine(matBand), obsDots(matObsX, matObsY)] ],
  [ [sampleLines(evenly(wpData), "catmull-rom")],
    [sampleLines(evenly(wpModel), "catmull-rom")],
    [bandArea(wpBand), sampleLines(onGrid(wpPostX, wpPost), "catmull-rom"), meanLine(wpBand), obsDots(wpObsX, wpObsY)] ],
  [ [sampleLines(fromPairs(sawData), "linear")],
    [sampleLines(fromPairs(sawModel), "linear")],
    [sampleLines(fromPairs(sawPost), "linear"), obsDots(sawObsX, sawObsY)] ],
  [ [sampleLines(evenly(mixDataSmooth), "catmull-rom"), sampleLines(evenly(mixDataJagged), "linear")],
    [sampleLines(evenly(mixModel), "linear")],
    [sampleLines(evenly(mixPost), "linear", 0.5), obsDots(mixObsX, mixObsY)] ]
];

// ---------- layout ----------
const fig = document.getElementById("fig");
const colLeft = [86.3, 331.6, 576];
const rowTop = [31.7, 142.7, 253.3, 364.3, 475.7];
const rowH = [91.6, 89.6, 90, 90.7, 91];
const FW = 218.5;
const ML = 50, MR = 6, MT = 4, MB = 12;
const fmt = d => d === 0 ? "0.0" : (d < 0 ? "\u2212" : "") + Math.abs(d).toFixed(1);

panels.forEach((row, r) => row.forEach((marks, c) => {
  const svg = Plot.plot({
    width: FW + ML + MR, height: rowH[r] + MT + MB,
    marginLeft: ML, marginRight: MR, marginTop: MT, marginBottom: MB,
    x: {domain: [0, 4], label: null},
    y: {domain: rowDomains[r], label: null},
    style: {fontFamily: "'Liberation Serif', serif", fontSize: "15px", background: "transparent", color: "#000", overflow: "visible"},
    marks: [
      ...marks,
      Plot.frame({stroke: "#111", strokeWidth: 1.4}),
      Plot.axisX(xTicks, {tickSize: 7, strokeWidth: 1.3, tickFormat: () => "", label: null}),
      Plot.axisY(rowTicks[r], {tickSize: 7, tickPadding: 6, strokeWidth: 1.3, fontSize: 15, tickFormat: c === 0 ? fmt : () => "", label: null})
    ]
  });
  svg.style.left = (colLeft[c] - ML) + "px";
  svg.style.top = (rowTop[r] - MT) + "px";
  fig.appendChild(svg);
}));

// ---------- text overlay: titles, row labels, legend ----------
const NS = "http://www.w3.org/2000/svg";
const ov = document.createElementNS(NS, "svg");
ov.setAttribute("width", 791); ov.setAttribute("height", 572);
ov.style.left = "0px"; ov.style.top = "0px";
ov.style.fontFamily = "'Liberation Serif', serif";
fig.appendChild(ov);
const mk = (tag, attrs, parent = ov) => { const e = document.createElementNS(NS, tag); for (const k in attrs) e.setAttribute(k, attrs[k]); parent.appendChild(e); return e; };

colTitles.forEach((t, c) => {
  const e = mk("text", {x: colLeft[c] + FW / 2, y: 20, "text-anchor": "middle", "font-size": 17, fill: "#000"});
  e.textContent = t;
});
const rowCenters = [77.5, 182, 295, 407, 521];
rowNames.forEach((t, r) => {
  const g = mk("g", {transform: `translate(27.5,${rowCenters[r]}) rotate(-90)`});
  const e = mk("text", {x: 0, y: 0, "text-anchor": "middle", "font-size": 16, fill: "#000"}, g);
  if (r === 1) {
    e.appendChild(document.createTextNode(t + "\u2212"));
    const n = mk("tspan", {"font-size": 11, dy: -6}, e); n.textContent = "5";
    const d = mk("tspan", {"font-size": 11, dx: -5.5, dy: 11}, e); d.textContent = "2";
    try {
      const ext = e.getExtentOfChar(t.length + 1);
      mk("line", {x1: ext.x - 0.5, x2: ext.x + ext.width + 0.5, y1: -4.6, y2: -4.6, stroke: "#000", "stroke-width": 0.8}, g);
    } catch (err) {}
  } else {
    e.textContent = t;
  }
});
// legend in the top-right panel
mk("rect", {x: 656.7, y: 91.3, width: 131.5, height: 24, rx: 3, fill: "#fff", "fill-opacity": 0.8, stroke: "#d0d0d0", "stroke-width": 1});
mk("rect", {x: 661.7, y: 96.8, width: 28.3, height: 11, fill: "#dedede"});
const lt = mk("text", {x: 700.5, y: 107, "font-size": 14, fill: "#000"});
lt.textContent = legendLabel;
</script></body></html>
